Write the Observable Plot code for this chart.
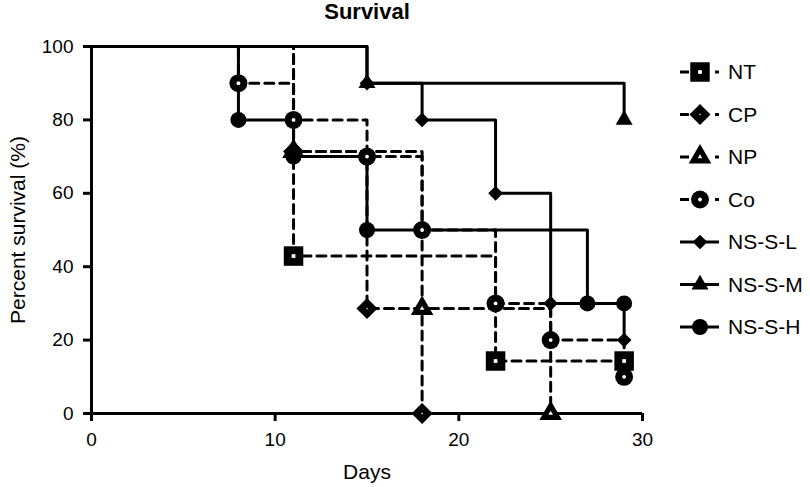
<!DOCTYPE html>
<html><head><meta charset="utf-8">
<script src="https://cdn.jsdelivr.net/npm/d3@7"></script>
<script src="https://cdn.jsdelivr.net/npm/@observablehq/plot@0.6"></script>
<style>
html,body{margin:0;padding:0;background:#fff;}
#chart svg{display:block;}
</style></head><body><div id="chart"></div>
<script>
// ---- data (Kaplan–Meier steps) ----
const seriesNames = ["NT", "CP", "NP", "Co", "NS-S-L", "NS-S-M", "NS-S-H"];
const ntDays   = [0, 11, 22, 29];
const ntSurv   = [100, 42.9, 14.3, 14.3];
const cpDays   = [0, 11, 15, 18];
const cpSurv   = [100, 71.4, 28.6, 0];
const npDays   = [0, 11, 18, 25];
const npSurv   = [100, 71.4, 28.6, 0];
const coDays   = [0, 8, 11, 15, 18, 22, 25, 29];
const coSurv   = [100, 90, 80, 70, 50, 30, 20, 10];
const nslDays  = [0, 15, 18, 22, 25, 29];
const nslSurv  = [100, 90, 80, 60, 30, 20];
const nsmDays  = [0, 15, 29];
const nsmSurv  = [100, 90, 80];
const nshDays  = [0, 8, 11, 15, 27, 29];
const nshSurv  = [100, 80, 70, 50, 30, 30];
const xTicks = [0, 10, 20, 30];
const yTicks = [0, 20, 40, 60, 80, 100];
const title = "Survival";
const xLabel = "Days";
const yLabel = "Percent survival (%)";

// ---- styles ----
const seriesStyle = {
  "NT":     {dashed: true,  symbol: "square",   r: 11.0, inner: 2.1},
  "CP":     {dashed: true,  symbol: "diamond2", r: 9.5,  inner: 0.8},
  "NP":     {dashed: true,  symbol: "triangle", r: 8.4,  inner: 1.7},
  "Co":     {dashed: true,  symbol: "circle",   r: 9.0,  inner: 1.9},
  "NS-S-L": {dashed: false, symbol: "diamond2", r: 6.6},
  "NS-S-M": {dashed: false, symbol: "triangle", r: 6.3},
  "NS-S-H": {dashed: false, symbol: "circle",   r: 8.0}
};
const seriesData = {
  "NT": [ntDays, ntSurv], "CP": [cpDays, cpSurv], "NP": [npDays, npSurv],
  "Co": [coDays, coSurv], "NS-S-L": [nslDays, nslSurv],
  "NS-S-M": [nsmDays, nsmSurv], "NS-S-H": [nshDays, nshSurv]
};
const rows = {};
for (const name of seriesNames) {
  const [d, s] = seriesData[name];
  rows[name] = d.map((day, i) => ({name, day, surv: s[i], i}));
}
const DASH = "9,6";
const LW = 3;

const lineMarks = [];
for (const name of seriesNames.filter(n => seriesStyle[n].dashed).concat(seriesNames.filter(n => !seriesStyle[n].dashed))) {
  const st = seriesStyle[name];
  lineMarks.push(Plot.line(rows[name], {
    x: "day", y: "surv", curve: "step-after", stroke: "black", strokeWidth: LW,
    strokeDasharray: st.dashed ? DASH : null
  }));
}
const dotMarks = [];
for (const name of seriesNames) {
  const st = seriesStyle[name];
  const pts = rows[name].filter(d => d.i > 0);
  dotMarks.push(Plot.dot(pts, {x: "day", y: "surv", symbol: () => st.symbol, r: st.r, fill: "black", stroke: "none"}));
  if (st.inner) dotMarks.push(Plot.dot(pts, {x: "day", y: "surv", symbol: () => st.symbol, r: st.inner, fill: "white", stroke: "none"}));
}

const chart = Plot.plot({
  width: 810, height: 487,
  marginLeft: 91, marginRight: 168, marginTop: 46, marginBottom: 74,
  x: {domain: [0, 30]},
  y: {domain: [0, 100]},
  symbol: {type: "identity"},
  style: {fontFamily: "'Liberation Sans', Arial, Helvetica, sans-serif", fontSize: "19px", color: "black", background: "white"},
  marks: [
    ...lineMarks,
    Plot.ruleY([0], {stroke: "black", strokeWidth: LW}),
    Plot.ruleX([0], {stroke: "black", strokeWidth: LW}),
    Plot.axisX({ticks: xTicks, tickSize: 8, tickPadding: 11, strokeWidth: LW, label: null, fontSize: 19, tickFormat: d => String(d)}),
    Plot.axisY({ticks: yTicks, tickSize: 8, tickPadding: 10, strokeWidth: LW, label: null, fontSize: 19, tickFormat: d => String(d)}),
    ...dotMarks,
    Plot.text([title], {frameAnchor: "top", dy: -28, lineAnchor: "bottom", fontWeight: "bold", fontSize: 22, fill: "black"}),
    Plot.text([xLabel], {frameAnchor: "bottom", dy: 65, lineAnchor: "bottom", fontSize: 21, fill: "black"}),
    Plot.text([yLabel], {frameAnchor: "left", dx: -67, rotate: -90, textAnchor: "middle", lineAnchor: "bottom", fontSize: 21, fill: "black"})
  ]
});
document.getElementById("chart").appendChild(chart);

// ---- legend (drawn into the same SVG) ----
const svg = d3.select(chart);
const symMap = {square: d3.symbolSquare, diamond2: d3.symbolDiamond2, triangle: d3.symbolTriangle, circle: d3.symbolCircle};
const leg = svg.append("g").attr("class", "legend");
seriesNames.forEach((name, k) => {
  const st = seriesStyle[name];
  const cy = 72 + k * 42.5;
  const g = leg.append("g").attr("transform", `translate(0,${cy})`);
  if (st.dashed) {
    g.append("line").attr("x1", 680).attr("x2", 689).attr("y1", 0).attr("y2", 0).attr("stroke", "black").attr("stroke-width", LW);
    g.append("line").attr("x1", 715).attr("x2", 719).attr("y1", 0).attr("y2", 0).attr("stroke", "black").attr("stroke-width", LW);
  } else {
    g.append("line").attr("x1", 680).attr("x2", 719).attr("y1", 0).attr("y2", 0).attr("stroke", "black").attr("stroke-width", LW);
  }
  g.append("path").attr("transform", "translate(700,0)")
    .attr("d", d3.symbol(symMap[st.symbol], Math.PI * st.r * st.r)()).attr("fill", "black");
  if (st.inner) g.append("path").attr("transform", "translate(700,0)")
    .attr("d", d3.symbol(symMap[st.symbol], Math.PI * st.inner * st.inner)()).attr("fill", "white");
  g.append("text").attr("x", 728).attr("y", 0).attr("dy", "0.35em")
    .attr("text-anchor", "start")
    .attr("font-size", 21).attr("fill", "black").text(name);
});
</script></body></html>
